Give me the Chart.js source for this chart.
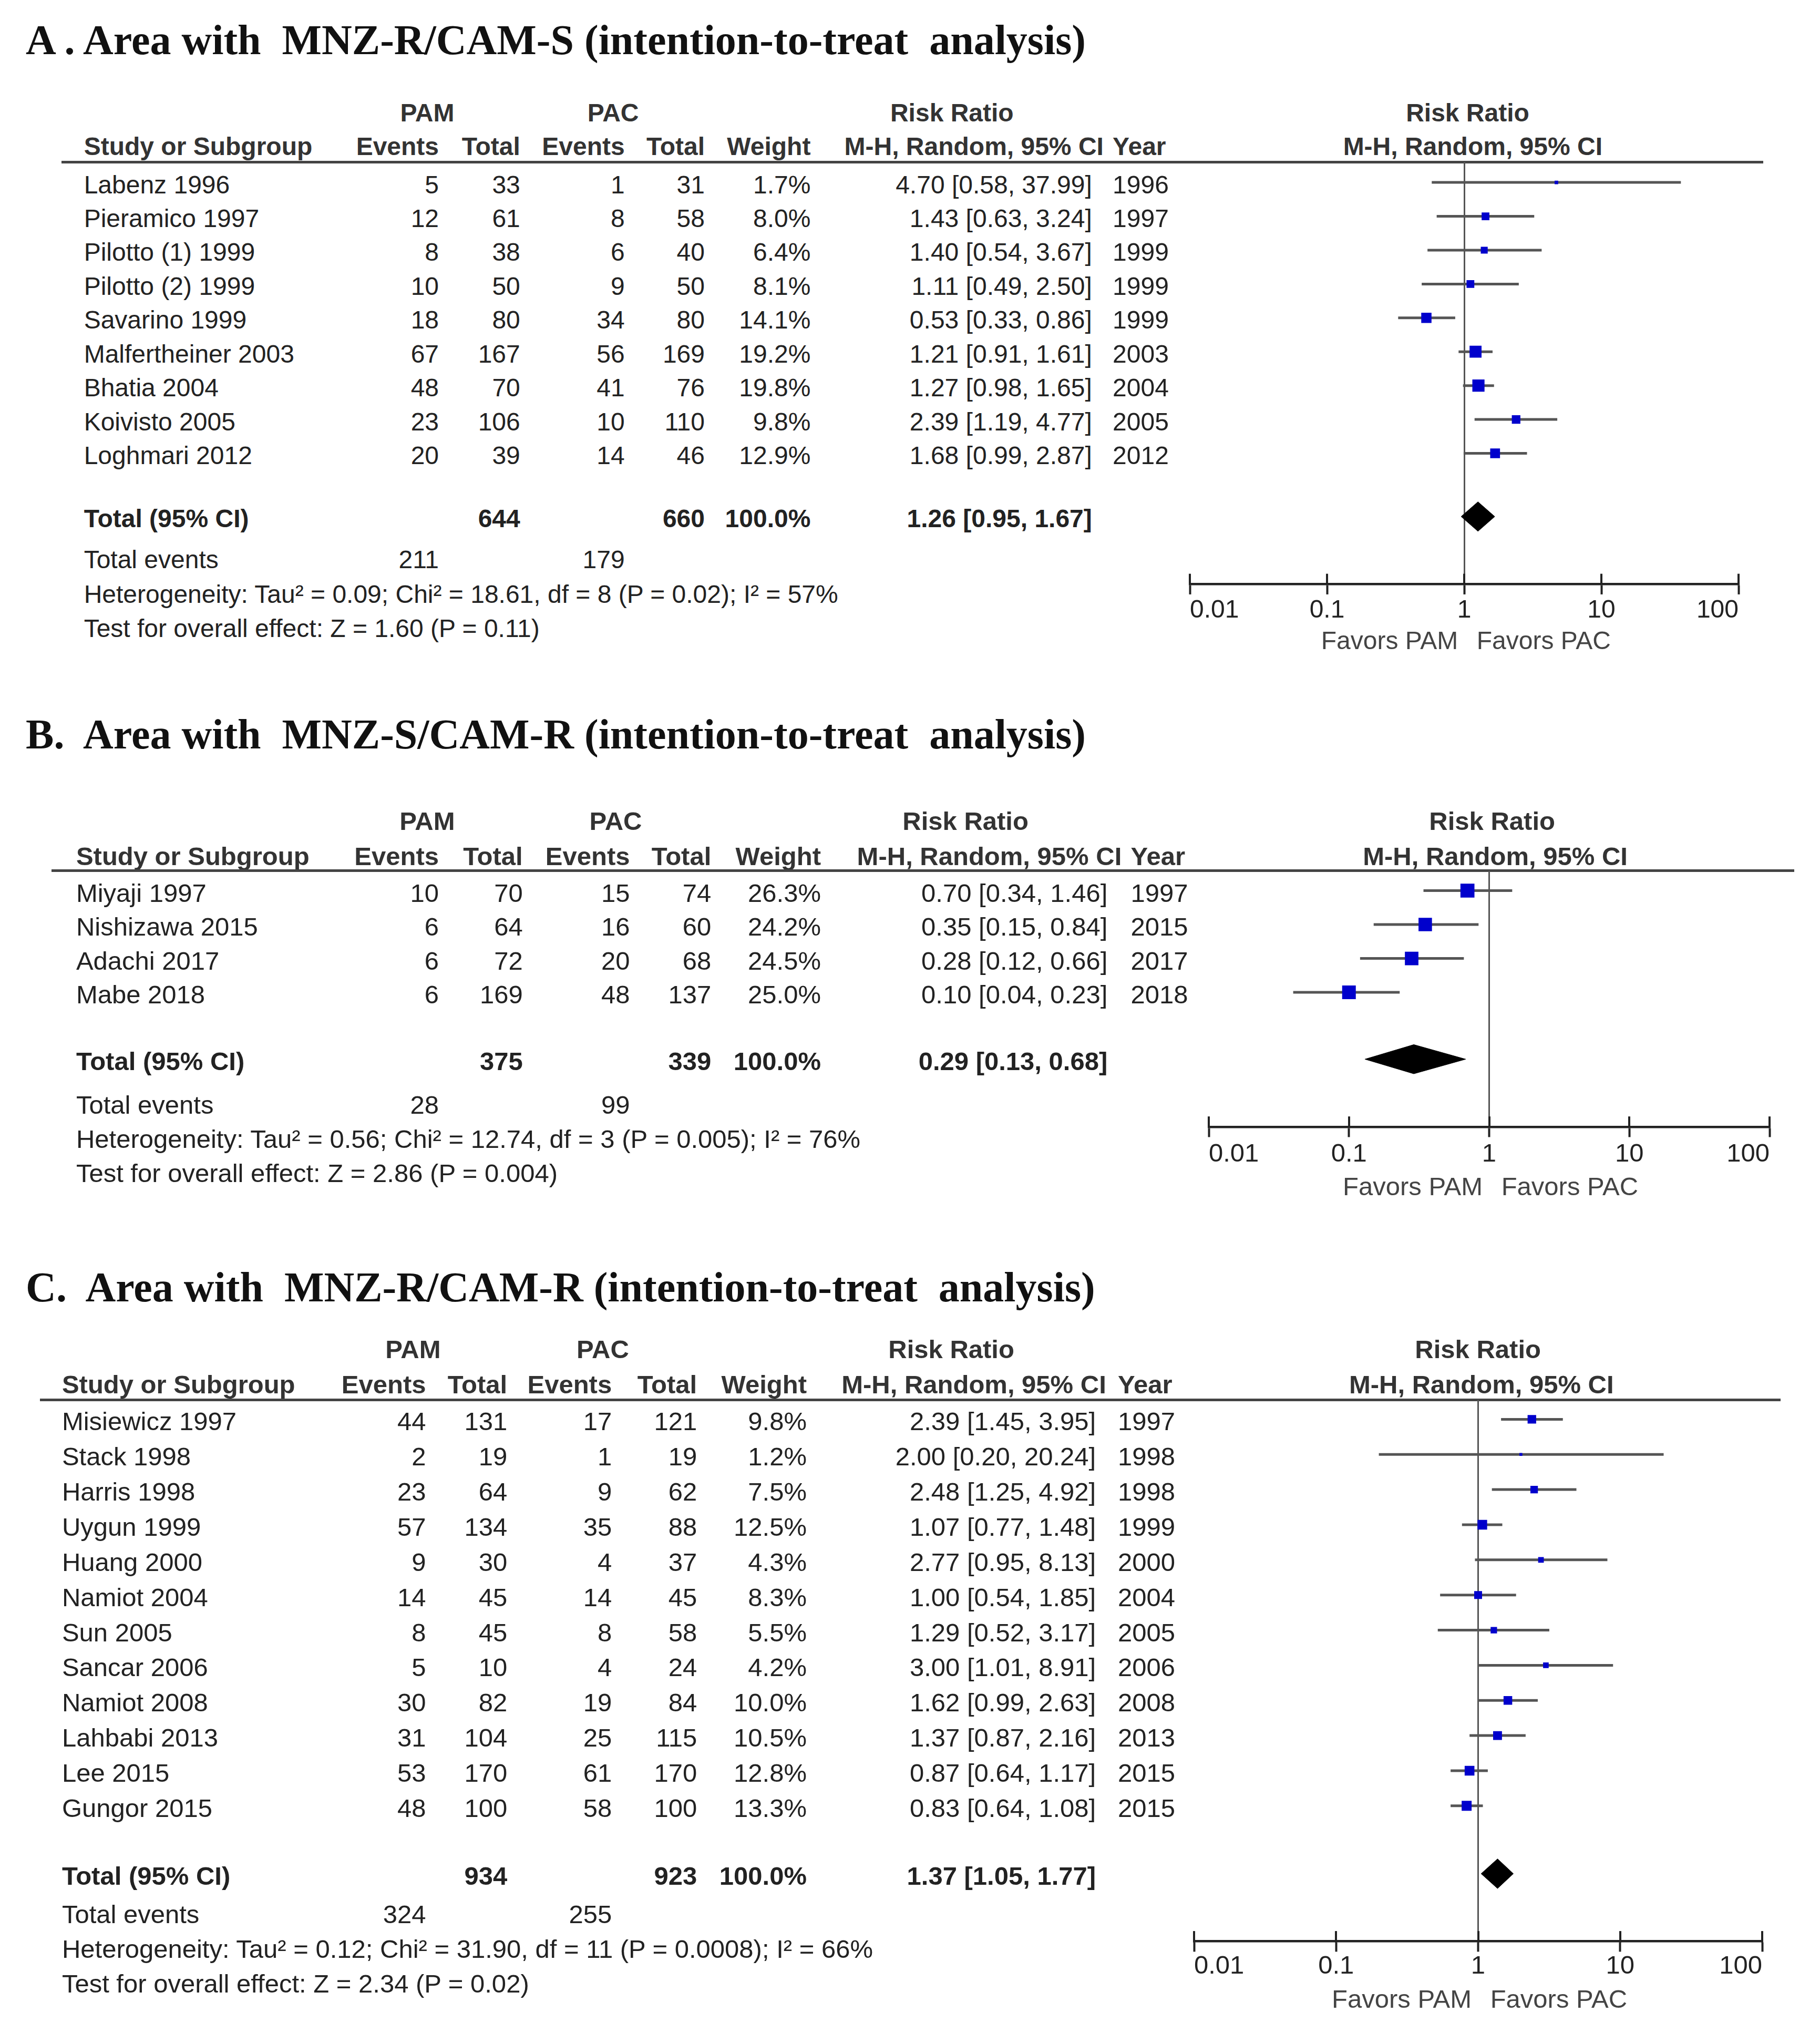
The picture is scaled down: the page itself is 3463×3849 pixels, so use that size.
<!DOCTYPE html>
<html><head><meta charset="utf-8">
<script src="https://cdn.jsdelivr.net/npm/chart.js@4.4.1/dist/chart.umd.min.js"></script>
<style>
html,body{margin:0;padding:0;background:#fff;}
#page{position:relative;width:3463px;height:3849px;overflow:hidden;background:#fff;}
.t{position:absolute;white-space:pre;font-family:"Liberation Sans",Arial,sans-serif;color:#222;}
canvas{position:absolute;}
</style></head><body><div id="page"></div>
<script>
// ---------------- DATA ----------------
const XTICKS = [0.01, 0.1, 1, 10, 100];
const XTICK_LABELS = ['0.01', '0.1', '1', '10', '100'];

// Panel A
const A_studies = ["Labenz 1996","Pieramico 1997","Pilotto (1) 1999","Pilotto (2) 1999","Savarino 1999","Malfertheiner 2003","Bhatia 2004","Koivisto 2005","Loghmari 2012"];
const A_pamEvents = [5,12,8,10,18,67,48,23,20];
const A_pamTotal  = [33,61,38,50,80,167,70,106,39];
const A_pacEvents = [1,8,6,9,34,56,41,10,14];
const A_pacTotal  = [31,58,40,50,80,169,76,110,46];
const A_weight = [1.7,8.0,6.4,8.1,14.1,19.2,19.8,9.8,12.9];
const A_rr = [4.70,1.43,1.40,1.11,0.53,1.21,1.27,2.39,1.68];
const A_lo = [0.58,0.63,0.54,0.49,0.33,0.91,0.98,1.19,0.99];
const A_hi = [37.99,3.24,3.67,2.50,0.86,1.61,1.65,4.77,2.87];
const A_year = [1996,1997,1999,1999,1999,2003,2004,2005,2012];
const A_totalN = [644, 660];
const A_totalEvents = [211, 179];
const A_pooled = [1.26, 0.95, 1.67];
const A_het = "Heterogeneity: Tau² = 0.09; Chi² = 18.61, df = 8 (P = 0.02); I² = 57%";
const A_test = "Test for overall effect: Z = 1.60 (P = 0.11)";
const A_title = "A . Area with  MNZ-R/CAM-S (intention-to-treat  analysis)";

// Panel B
const B_studies = ["Miyaji 1997","Nishizawa 2015","Adachi 2017","Mabe 2018"];
const B_pamEvents = [10,6,6,6];
const B_pamTotal  = [70,64,72,169];
const B_pacEvents = [15,16,20,48];
const B_pacTotal  = [74,60,68,137];
const B_weight = [26.3,24.2,24.5,25.0];
const B_rr = [0.70,0.35,0.28,0.10];
const B_lo = [0.34,0.15,0.12,0.04];
const B_hi = [1.46,0.84,0.66,0.23];
const B_year = [1997,2015,2017,2018];
const B_totalN = [375, 339];
const B_totalEvents = [28, 99];
const B_pooled = [0.29, 0.13, 0.68];
const B_het = "Heterogeneity: Tau² = 0.56; Chi² = 12.74, df = 3 (P = 0.005); I² = 76%";
const B_test = "Test for overall effect: Z = 2.86 (P = 0.004)";
const B_title = "B.  Area with  MNZ-S/CAM-R (intention-to-treat  analysis)";

// Panel C
const C_studies = ["Misiewicz 1997","Stack 1998","Harris 1998","Uygun 1999","Huang 2000","Namiot 2004","Sun 2005","Sancar 2006","Namiot 2008","Lahbabi 2013","Lee 2015","Gungor 2015"];
const C_pamEvents = [44,2,23,57,9,14,8,5,30,31,53,48];
const C_pamTotal  = [131,19,64,134,30,45,45,10,82,104,170,100];
const C_pacEvents = [17,1,9,35,4,14,8,4,19,25,61,58];
const C_pacTotal  = [121,19,62,88,37,45,58,24,84,115,170,100];
const C_weight = [9.8,1.2,7.5,12.5,4.3,8.3,5.5,4.2,10.0,10.5,12.8,13.3];
const C_rr = [2.39,2.00,2.48,1.07,2.77,1.00,1.29,3.00,1.62,1.37,0.87,0.83];
const C_lo = [1.45,0.20,1.25,0.77,0.95,0.54,0.52,1.01,0.99,0.87,0.64,0.64];
const C_hi = [3.95,20.24,4.92,1.48,8.13,1.85,3.17,8.91,2.63,2.16,1.17,1.08];
const C_year = [1997,1998,1998,1999,2000,2004,2005,2006,2008,2013,2015,2015];
const C_totalN = [934, 923];
const C_totalEvents = [324, 255];
const C_pooled = [1.37, 1.05, 1.77];
const C_het = "Heterogeneity: Tau² = 0.12; Chi² = 31.90, df = 11 (P = 0.0008); I² = 66%";
const C_test = "Test for overall effect: Z = 2.34 (P = 0.02)";
const C_title = "C.  Area with  MNZ-R/CAM-R (intention-to-treat  analysis)";

// ---------------- LAYOUT (reference units, 1410-wide) ----------------
const LA = {titleY:31, h1Y:87.4, h2Y:113.8, lineY:125.6, lineX0:47.6, lineX1:1366,
  row0:141.5, step:26.43, textOff:1.8, totalY:402.3, eventsY:433.5, hetY:460.5, testY:487,
  axisY:455, axL:922, axR:1347, tickLabOff:20.5, favY:496.5, font:48,
  nameL:65, ev1R:340, tot1R:403, ev2R:484, tot2R:546, wR:628, ciR:846, ciHR:855, yearL:862,
  pamC:331, pacC:475, rrC:737.5, frC:1137, fmC:1141};
const LB = {titleY:569, h1Y:636, h2Y:663.5, lineY:674.5, lineX0:40, lineX1:1390,
  row0:690.1, step:26.75, textOff:2, totalY:823.1, eventsY:856, hetY:882.5, testY:909,
  axisY:876.4, axL:936.4, axR:1371, tickLabOff:21.5, favY:919.1, font:49,
  nameL:59, ev1R:340, tot1R:405, ev2R:488, tot2R:551, wR:636, ciR:858, ciHR:869, yearL:876,
  pamC:331, pacC:477, rrC:748, frC:1156, fmC:1158.4};
const LC = {titleY:997, h1Y:1045.3, h2Y:1072.7, lineY:1084.3, lineX0:31, lineX1:1379.5,
  row0:1099.4, step:27.3, textOff:2, totalY:1452.4, eventsY:1483, hetY:1510, testY:1537,
  axisY:1505, axL:925, axR:1365, tickLabOff:19.5, favY:1548.5, font:49,
  nameL:48, ev1R:330, tot1R:393, ev2R:474, tot2R:540, wR:625, ciR:849, ciHR:857, yearL:866,
  pamC:320, pacC:467, rrC:737, frC:1145, fmC:1147.7};

const S = 3463/1410;
const X = v => v*S;
const page = document.getElementById('page');
const SANS = '"Liberation Sans", Arial, sans-serif';
const SERIF = '"Liberation Serif", "Times New Roman", serif';

function txt(str, x, y, o) {
  const d = document.createElement('div');
  d.className = 't';
  d.textContent = str;
  const fs = o.size;
  d.style.fontSize = fs + 'px';
  d.style.lineHeight = fs + 'px';
  if (o.bold) d.style.fontWeight = 'bold';
  if (o.family) d.style.fontFamily = o.family;
  if (o.color) d.style.color = o.color;
  d.style.top = (y - fs*0.5) + 'px';
  d.style.left = x + 'px';
  if (o.align === 'right') d.style.transform = 'translateX(-100%)';
  else if (o.align === 'center') d.style.transform = 'translateX(-50%)';
  page.appendChild(d);
}

const crossTicks = {
  id: 'crossTicks',
  afterDraw(chart) {
    const s = chart.scales.x, ctx = chart.ctx;
    ctx.save();
    ctx.strokeStyle = '#222';
    ctx.lineWidth = 4;
    s.ticks.forEach(t => {
      const x = Math.round(s.getPixelForValue(t.value));
      ctx.beginPath();
      ctx.moveTo(x, s.top + 2);
      ctx.lineTo(x, s.top - X(8));
      ctx.stroke();
    });
    ctx.restore();
  }
};

function panel(L, title, studies, pamEv, pamTot, pacEv, pacTot, weight, rr, lo, hi, year, totN, totEv, pooled, het, test) {
  const fs = L.font;
  txt(title, X(20), X(L.titleY), {size: 80, bold: true, family: SERIF, color: '#111'});
  const H = {size: fs, bold: true, color: '#333'};
  txt('PAM', X(L.pamC), X(L.h1Y), {...H, align: 'center'});
  txt('PAC', X(L.pacC), X(L.h1Y), {...H, align: 'center'});
  txt('Risk Ratio', X(L.rrC), X(L.h1Y), {...H, align: 'center'});
  txt('Risk Ratio', X(L.frC), X(L.h1Y), {...H, align: 'center'});
  txt('Study or Subgroup', X(L.nameL), X(L.h2Y), H);
  txt('Events', X(L.ev1R), X(L.h2Y), {...H, align: 'right'});
  txt('Total', X(L.tot1R), X(L.h2Y), {...H, align: 'right'});
  txt('Events', X(L.ev2R), X(L.h2Y), {...H, align: 'right'});
  txt('Total', X(L.tot2R), X(L.h2Y), {...H, align: 'right'});
  txt('Weight', X(L.wR), X(L.h2Y), {...H, align: 'right'});
  txt('M-H, Random, 95% CI', X(L.ciHR), X(L.h2Y), {...H, align: 'right'});
  txt('Year', X(L.yearL), X(L.h2Y), H);
  txt('M-H, Random, 95% CI', X(L.fmC), X(L.h2Y), {...H, align: 'center'});

  const ln = document.createElement('div');
  ln.style.cssText = 'position:absolute;background:#444;';
  ln.style.left = X(L.lineX0) + 'px';
  ln.style.width = X(L.lineX1 - L.lineX0) + 'px';
  ln.style.top = (X(L.lineY) - 2.5) + 'px';
  ln.style.height = '5px';
  page.appendChild(ln);

  // ---- chart ----
  const n = studies.length;
  const rowOf = y => (y - L.row0) / L.step;
  const yMin = rowOf(L.lineY), yMax = rowOf(L.axisY), tRow = rowOf(L.totalY);
  const hh = 11.5 / L.step;
  const padL = 80, padR = 80, padT = 10;
  const axisH = X(L.tickLabOff + 14);
  const areaW = X(L.axR - L.axL), areaH = X(L.axisY - L.lineY);
  const cv = document.createElement('canvas');
  cv.width = Math.round(padL + areaW + padR);
  cv.height = Math.round(padT + areaH + axisH);
  cv.style.width = cv.width + 'px';
  cv.style.height = cv.height + 'px';
  cv.style.left = (X(L.axL) - padL) + 'px';
  cv.style.top = (X(L.lineY) - padT) + 'px';
  page.appendChild(cv);

  const K = 5.2; // square side per sqrt(weight %), px
  const datasets = [];
  datasets.push({
    type: 'scatter',
    data: rr.map((v, i) => ({x: v, y: i})),
    pointStyle: 'rect',
    pointRadius: weight.map(w => K * Math.sqrt(w) / Math.SQRT2),
    pointBorderWidth: 0,
    backgroundColor: '#0000CC',
    borderColor: '#0000CC'
  });
  datasets.push({
    type: 'line',
    data: [
      {x: pooled[1], y: tRow}, {x: pooled[0], y: tRow - hh},
      {x: pooled[2], y: tRow}, {x: pooled[0], y: tRow + hh}, {x: pooled[1], y: tRow}
    ],
    fill: 'shape', backgroundColor: '#000', borderColor: '#000', borderWidth: 1,
    pointRadius: 0, tension: 0
  });
  for (let i = 0; i < n; i++) {
    datasets.push({
      type: 'line',
      data: [{x: lo[i], y: i}, {x: hi[i], y: i}],
      borderColor: '#555555', borderWidth: 5, pointRadius: 0, fill: false, tension: 0
    });
  }
  const tl = X(8);
  const chart = new Chart(cv, {
    type: 'scatter',
    data: {datasets},
    options: {
      responsive: false, animation: false, devicePixelRatio: 1, events: [],
      layout: {padding: {left: padL, right: padR, top: padT, bottom: 0}},
      plugins: {legend: {display: false}, tooltip: {enabled: false}},
      scales: {
        x: {
          type: 'logarithmic', min: 0.01, max: 100, offset: false,
          afterBuildTicks: s => { s.ticks = XTICKS.map(v => ({value: v})); },
          afterFit: s => { s.height = axisH; },
          ticks: {
            autoSkip: false, maxRotation: 0, minRotation: 0, align: 'inner',
            callback: (v, i) => XTICK_LABELS[i],
            font: {family: SANS, size: fs, lineHeight: 1},
            color: '#222',
            padding: X(L.tickLabOff) - tl - fs * 0.5
          },
          grid: {
            drawOnChartArea: true, drawTicks: true, tickLength: tl,
            color: c => (c.tick && c.tick.value === 1) ? '#555' : 'rgba(0,0,0,0)',
            lineWidth: 3, tickColor: '#222', tickWidth: 4
          },
          border: {display: true, color: '#222', width: 4.5}
        },
        y: {type: 'linear', reverse: true, min: yMin, max: yMax, display: false}
      }
    },
    plugins: [crossTicks]
  });

  const ca = chart.chartArea;
  const offX = X(L.axL) - ca.left, offY = X(L.lineY) - ca.top;
  cv.style.left = offX + 'px';
  cv.style.top = offY + 'px';
  const xs = chart.scales.x, ys = chart.scales.y;
  const rowY = r => offY + ys.getPixelForValue(r) + X(L.textOff);
  const B = {size: fs};
  const f2 = v => v.toFixed(2);
  for (let i = 0; i < n; i++) {
    const y = rowY(i);
    txt(studies[i], X(L.nameL), y, B);
    txt(String(pamEv[i]), X(L.ev1R), y, {...B, align: 'right'});
    txt(String(pamTot[i]), X(L.tot1R), y, {...B, align: 'right'});
    txt(String(pacEv[i]), X(L.ev2R), y, {...B, align: 'right'});
    txt(String(pacTot[i]), X(L.tot2R), y, {...B, align: 'right'});
    txt(weight[i].toFixed(1) + '%', X(L.wR), y, {...B, align: 'right'});
    txt(f2(rr[i]) + ' [' + f2(lo[i]) + ', ' + f2(hi[i]) + ']', X(L.ciR), y, {...B, align: 'right'});
    txt(String(year[i]), X(L.yearL), y, B);
  }
  const ty = rowY(tRow);
  const BB = {size: fs, bold: true};
  txt('Total (95% CI)', X(L.nameL), ty, BB);
  txt(String(totN[0]), X(L.tot1R), ty, {...BB, align: 'right'});
  txt(String(totN[1]), X(L.tot2R), ty, {...BB, align: 'right'});
  txt('100.0%', X(L.wR), ty, {...BB, align: 'right'});
  txt(f2(pooled[0]) + ' [' + f2(pooled[1]) + ', ' + f2(pooled[2]) + ']', X(L.ciR), ty, {...BB, align: 'right'});
  txt('Total events', X(L.nameL), X(L.eventsY), B);
  txt(String(totEv[0]), X(L.ev1R), X(L.eventsY), {...B, align: 'right'});
  txt(String(totEv[1]), X(L.ev2R), X(L.eventsY), {...B, align: 'right'});
  txt(het, X(L.nameL), X(L.hetY), B);
  txt(test, X(L.nameL), X(L.testY), B);

  const x1 = offX + xs.getPixelForValue(1);
  txt('Favors PAM', x1 - X(5), X(L.favY), {size: fs, color: '#444', align: 'right'});
  txt('Favors PAC', x1 + X(9.5), X(L.favY), {size: fs, color: '#444'});
}

panel(LA, A_title, A_studies, A_pamEvents, A_pamTotal, A_pacEvents, A_pacTotal, A_weight, A_rr, A_lo, A_hi, A_year, A_totalN, A_totalEvents, A_pooled, A_het, A_test);
panel(LB, B_title, B_studies, B_pamEvents, B_pamTotal, B_pacEvents, B_pacTotal, B_weight, B_rr, B_lo, B_hi, B_year, B_totalN, B_totalEvents, B_pooled, B_het, B_test);
panel(LC, C_title, C_studies, C_pamEvents, C_pamTotal, C_pacEvents, C_pacTotal, C_weight, C_rr, C_lo, C_hi, C_year, C_totalN, C_totalEvents, C_pooled, C_het, C_test);
</script></body></html>
